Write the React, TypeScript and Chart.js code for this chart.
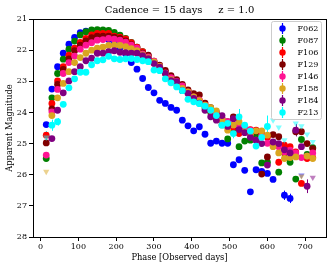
import { useEffect, useRef } from "react";
import { Chart, registerables } from "chart.js";

Chart.register(...registerables);

const FONT = "'DejaVu Serif', serif";

const TITLE = "Cadence = 15 days     z = 1.0";
const X_LABEL = "Phase [Observed days]";
const Y_LABEL = "Apparent Magnitude";
const X_TICKS = [0, 100, 200, 300, 400, 500, 600, 700];
const Y_TICKS = [21, 22, 23, 24, 25, 26, 27, 28];

const FILTERS = ["F062", "F087", "F106", "F129", "F146", "F158", "F184", "F213"];
const COLORS = ["#0000ff", "#008000", "#ff0000", "#800000", "#ff1493", "#daa520", "#800080", "#00ffff"];

const DAYS = [15, 30, 45, 60, 75, 90, 105, 120, 135, 150, 165, 180, 195, 210, 225, 240,
  255, 270, 285, 300, 315, 330, 345, 360, 375, 390, 405, 420, 435, 450, 465, 480,
  495, 510, 525, 540, 555, 570, 585, 600, 615, 630, 645, 660, 675, 690, 705, 720];

const F062 = [24.39, 23.25, 22.53, 22.10, 21.81, 21.59, 21.44, 21.39, 21.42, 21.48, 21.56, 21.66, 21.78, 21.92, 22.12, 22.40,
  22.61, 22.91, 23.20, 23.37, 23.61, 23.71, 23.84, 23.93, 24.25, 24.43, 24.59, 24.46, 24.70, 24.99, 24.92, 24.99,
  24.99, 25.68, 25.52, 25.86, 26.55, 25.84, 25.89, 25.96, 26.15, null, 26.66, 26.76, null, null, null, null];
const F087 = [25.48, 23.53, 22.75, 22.29, 21.97, 21.71, 21.51, 21.41, 21.35, 21.34, 21.35, 21.37, 21.43, 21.52, 21.62, 21.75,
  21.90, 22.05, 22.20, 22.40, 22.55, 22.72, 22.88, 23.02, 23.18, 23.35, 23.52, 23.68, 23.85, 24.00, 24.20, 24.40,
  24.85, 24.60, 25.10, 24.92, 24.89, 24.75, 25.62, 25.60, 25.00, 25.92, 25.20, 25.60, 26.14, 24.87, 25.35, 25.13];
const F106 = [24.73, 23.71, 22.99, 22.53, 22.16, 21.94, 21.75, 21.62, 21.51, 21.46, 21.46, 21.46, 21.55, 21.58, 21.64, 21.76,
  21.90, 22.05, 22.22, 22.38, 22.55, 22.70, 22.85, 23.00, 23.15, 23.30, 23.48, 23.62, 23.78, 23.95, 24.10, 24.28,
  24.45, 24.48, 24.68, 24.57, 24.55, 24.57, 24.68, 24.80, 25.00, 25.60, 25.05, 25.10, 25.27, 26.28, 25.48, 25.45];
const F129 = [24.98, 23.89, 23.10, 22.62, 22.28, 22.02, 21.84, 21.70, 21.60, 21.55, 21.55, 21.55, 21.58, 21.62, 21.70, 21.82,
  21.96, 22.10, 22.16, 22.35, 22.48, 22.65, 22.82, 22.95, 23.10, 23.28, 23.40, 23.44, 23.70, 23.85, 24.00, 24.20,
  24.30, 24.14, 24.50, 24.60, 24.70, 24.60, 25.98, 25.43, 24.71, 24.78, 25.30, 25.27, 24.62, 24.62, 25.00, 25.16];
const F146 = [25.37, 23.98, 23.26, 22.75, 22.40, 22.19, 21.97, 21.84, 21.76, 21.68, 21.66, 21.62, 21.65, 21.68, 21.74, 21.84,
  21.94, 22.12, 22.22, 22.35, 22.52, 22.73, 22.88, 23.00, 23.15, 23.34, 23.50, 23.60, 23.77, 23.90, 24.03, 24.20,
  24.30, 24.40, 24.45, 24.50, 24.57, 24.89, 24.75, 24.99, 25.05, 25.10, 25.27, 25.21, 25.30, 25.45, 25.40, 25.30];
const F158 = [null, 24.10, 23.53, 23.07, 22.69, 22.40, 22.24, 22.10, 22.00, 21.94, 21.90, 21.85, 21.84, 21.85, 21.89, 21.95,
  22.02, 22.15, 22.25, 22.38, 22.52, 22.75, 22.95, 23.10, 23.23, 23.34, 23.50, 23.62, 23.77, 23.85, 23.95, 24.25,
  24.57, 24.40, 24.30, 24.62, 24.70, 24.59, 24.59, 24.73, 25.10, 25.30, 25.48, 25.45, 25.43, null, 25.40, 25.48];
const F184 = [null, 24.84, 23.93, 23.37, 22.99, 22.69, 22.53, 22.34, 22.26, 22.10, 22.10, 22.05, 22.02, 22.07, 22.08, 22.10,
  22.10, 22.18, 22.27, 22.43, 22.55, 22.75, 22.98, 23.02, 23.30, 23.39, 23.55, 23.70, 23.93, 24.14, 24.25, 24.10,
  24.45, 24.20, 24.55, 24.65, 24.80, 24.89, 25.00, 25.69, 24.95, 25.00, 25.20, 25.30, 24.57, 25.10, 26.37, null];
const F213 = [null, 24.41, 24.30, 23.74, 23.21, 22.92, 22.71, 22.71, 22.47, 22.34, 22.31, 22.20, 22.28, 22.30, 22.28, 22.27,
  22.30, 22.34, 22.37, 22.64, 22.66, 22.92, 23.05, 23.18, 23.30, 23.58, 23.66, 23.72, 23.80, 23.93, 24.10, 24.41,
  24.35, 24.68, 24.14, 24.41, 24.60, 25.08, 24.80, 24.45, null, null, null, null, null, null, null, null];

// upper limits [day, magnitude]
const F062_LIM = [[690, 26.02]];
const F087_LIM: number[][] = [];
const F106_LIM: number[][] = [];
const F129_LIM: number[][] = [];
const F146_LIM: number[][] = [];
const F158_LIM = [[15, 25.9], [690, 26.05]];
const F184_LIM = [[720, 26.09]];
const F213_LIM = [[15, 24.8], [615, 24.25], [630, 24.48], [645, 24.89], [675, 24.35], [690, 24.44], [705, 24.7], [720, 24.94]];

// visible error bars: filter, day, half-size
const ERR_FILTER = ["F213", "F213", "F213", "F213", "F213", "F062", "F062", "F184", "F184", "F213"];
const ERR_DAY = [30, 45, 525, 600, 510, 645, 660, 675, 705, 15];
const ERR_SIZE = [0.18, 0.12, 0.25, 0.35, 0.15, 0.15, 0.15, 0.2, 0.22, 0.2];

const SERIES = [F062, F087, F106, F129, F146, F158, F184, F213];
const LIMITS = [F062_LIM, F087_LIM, F106_LIM, F129_LIM, F146_LIM, F158_LIM, F184_LIM, F213_LIM];

function fade(hex: string, a: number) {
  const r = parseInt(hex.slice(1, 3), 16), g = parseInt(hex.slice(3, 5), 16), b = parseInt(hex.slice(5, 7), 16);
  return `rgba(${r},${g},${b},${a})`;
}

const framePlugin = {
  id: "frame",
  beforeDatasetsDraw(chart: any) {
    const { ctx, scales } = chart;
    ctx.save();
    ctx.lineWidth = 1;
    ERR_FILTER.forEach((f, k) => {
      const i = FILTERS.indexOf(f);
      const di = DAYS.indexOf(ERR_DAY[k]);
      let m: any = di >= 0 ? SERIES[i][di] : null;
      if (m === null || m === undefined) {
        const l = LIMITS[i].find((p) => p[0] === ERR_DAY[k]);
        if (!l) return;
        m = l[1];
      }
      const x = Math.round(scales.x.getPixelForValue(ERR_DAY[k])) + 0.5;
      ctx.strokeStyle = COLORS[i];
      ctx.beginPath();
      ctx.moveTo(x, scales.y.getPixelForValue(m - ERR_SIZE[k]));
      ctx.lineTo(x, scales.y.getPixelForValue(m + ERR_SIZE[k]));
      ctx.stroke();
    });
    ctx.restore();
  },
  afterDraw(chart: any) {
    const { ctx, chartArea: a } = chart;
    ctx.save();
    // title centred over the plot area
    ctx.fillStyle = "#000";
    ctx.font = `10px ${FONT}`;
    ctx.textAlign = "center";
    ctx.textBaseline = "middle";
    ctx.fillText(TITLE, (a.left + a.right) / 2, 10);
    // frame
    ctx.strokeStyle = "#000";
    ctx.lineWidth = 1;
    ctx.strokeRect(Math.round(a.left) + 0.5, Math.round(a.top) + 0.5, Math.round(a.right - a.left), Math.round(a.bottom - a.top));
    // legend
    const bx = a.right - 54.5, by = a.top + 2.5, bw = 50, bh = 98;
    ctx.fillStyle = "rgba(255,255,255,0.85)";
    ctx.strokeStyle = "#cccccc";
    ctx.beginPath();
    ctx.roundRect(bx, by, bw, bh, 2);
    ctx.fill();
    ctx.stroke();
    ctx.font = `8px ${FONT}`;
    ctx.textBaseline = "middle";
    ctx.textAlign = "left";
    FILTERS.forEach((name, i) => {
      const cy = by + 7 + 12 * i;
      const mx = bx + 11;
      ctx.strokeStyle = COLORS[i];
      ctx.lineWidth = 1.2;
      ctx.beginPath();
      ctx.moveTo(mx, cy - 5.5);
      ctx.lineTo(mx, cy + 5.5);
      ctx.stroke();
      ctx.fillStyle = COLORS[i];
      ctx.beginPath();
      ctx.arc(mx, cy, 3.2, 0, Math.PI * 2);
      ctx.fill();
      ctx.fillStyle = "#000";
      ctx.fillText(name, bx + 26, cy + 0.5);
    });
    ctx.restore();
  },
};

export default function App() {
  const ref = useRef<HTMLCanvasElement>(null);
  useEffect(() => {
    document.body.style.margin = "0";
    const canvas = ref.current!;
    const datasets = FILTERS.map((name, i) => {
      const pts: any[] = [];
      SERIES[i].forEach((m, k) => {
        if (m !== null) pts.push({ x: DAYS[k], y: m, lim: false });
      });
      LIMITS[i].forEach((p) => pts.push({ x: p[0], y: p[1], lim: true }));
      return {
        label: name,
        data: pts,
        order: FILTERS.length - 1 - i,
        pointStyle: (c: any) => (c.raw && c.raw.lim ? "triangle" : "circle"),
        rotation: (c: any) => (c.raw && c.raw.lim ? 180 : 0),
        pointRadius: (c: any) => (c.raw && c.raw.lim ? 3.6 : 3.4),
        backgroundColor: (c: any) => (c.raw && c.raw.lim ? fade(COLORS[i], 0.5) : COLORS[i]),
        borderColor: COLORS[i],
        borderWidth: 0,
      };
    });
    const tickFont = { family: FONT, size: 8 };
    const labelFont = { family: FONT, size: 8.3 };
    const chart = new Chart(canvas, {
      type: "scatter",
      data: { datasets: datasets as any },
      plugins: [framePlugin],
      options: {
        animation: false,
        responsive: false,
        events: [],
        layout: { padding: { top: 19, right: 6, left: 0, bottom: 0 } },
        plugins: {
          legend: { display: false },
          tooltip: { enabled: false },
          title: { display: false },
        },
        scales: {
          x: {
            type: "linear",
            min: -20,
            max: 755,
            afterBuildTicks: (s: any) => {
              s.ticks = X_TICKS.map((v) => ({ value: v }));
            },
            afterFit: (s: any) => {
              s.height = 31;
            },
            ticks: { font: tickFont, color: "#000", padding: 1, maxRotation: 0, autoSkip: false },
            grid: { drawOnChartArea: false, drawTicks: true, tickLength: 4, color: "#000", tickColor: "#000" },
            border: { display: true, color: "#000", width: 1 },
            title: { display: true, text: X_LABEL, color: "#000", font: labelFont, padding: { top: 0, bottom: 5 } },
          },
          y: {
            type: "linear",
            reverse: true,
            min: 21,
            max: 28,
            afterBuildTicks: (s: any) => {
              s.ticks = Y_TICKS.map((v) => ({ value: v }));
            },
            afterFit: (s: any) => {
              s.width = 33;
            },
            ticks: { font: tickFont, color: "#000", padding: 2, autoSkip: false },
            grid: { drawOnChartArea: false, drawTicks: true, tickLength: 4, color: "#000", tickColor: "#000" },
            border: { display: true, color: "#000", width: 1 },
            title: { display: true, text: Y_LABEL, color: "#000", font: labelFont, padding: { top: 5, bottom: 0 } },
          },
        },
      } as any,
    });
    return () => chart.destroy();
  }, []);
  return (
    <div style={{ position: "absolute", left: 0, top: 0, width: 332, height: 268 }}>
      <canvas ref={ref} width={332} height={268} />
    </div>
  );
}
